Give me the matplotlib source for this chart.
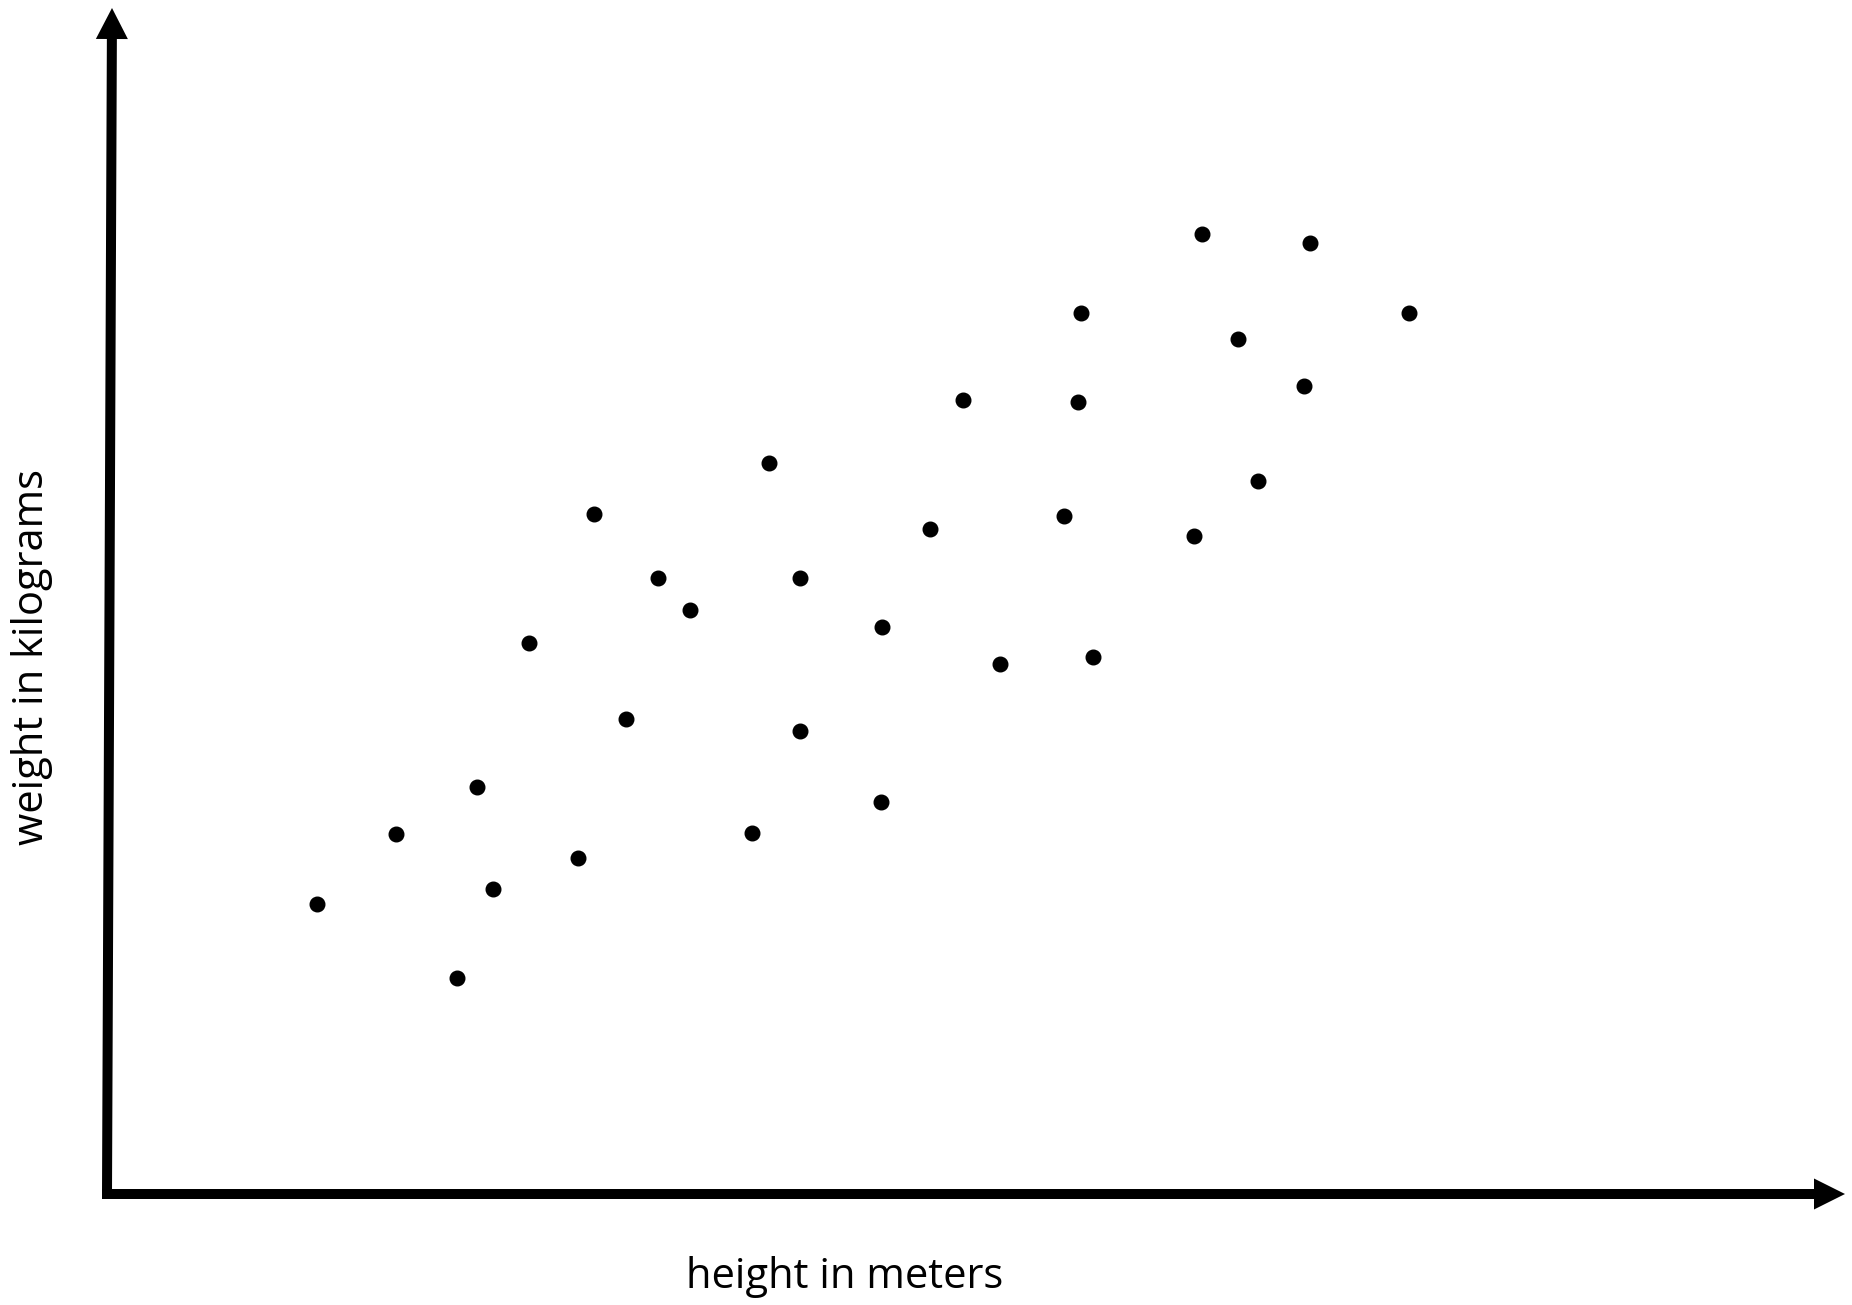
#!/usr/bin/env python3
"""Height vs weight scatter, hand-drawn arrow axes, no ticks."""

import matplotlib.pyplot as plt

# values (arbitrary units, origin at the arrow corner)
height = [210, 289, 350, 370, 386, 422, 471, 487, 519, 551, 583, 645, 662, 693, 693,
          774, 775, 823, 856, 893, 957, 971, 974, 986, 1087, 1095, 1131, 1151, 1197,
          1203, 1302]
weight = [290, 360, 216, 407, 305, 551, 336, 680, 475, 616, 584, 361, 731, 616, 463,
          392, 567, 665, 794, 530, 678, 792, 881, 537, 658, 960, 855, 713, 808,
          951, 881]

xlabel = "height in meters"
ylabel = "weight in kilograms"

plt.rcParams["font.family"] = ["Open Sans", "DejaVu Sans"]

fig = plt.figure(figsize=(18.52, 13.05), dpi=100)
ax = fig.add_axes([0, 0, 1, 1])
ax.set_xlim(-107, 1745)
ax.set_ylim(-111, 1194)
ax.axis("off")

ax.plot(height, weight, "o", color="black", markersize=10.5, linestyle="none")

# arrows for the axes
ax.arrow(-5, 0, 1743, 0, width=10, head_width=31, head_length=31,
         length_includes_head=True, color="black", lw=0)
ax.arrow(0, 0, 5, 1186, width=10, head_width=32, head_length=31,
         length_includes_head=True, color="black", lw=0)

ax.text(738, -94, xlabel, ha="center", va="baseline", fontsize=30)
ax.text(-75, 537, ylabel, ha="center", va="center", rotation=90, fontsize=30)

fig.savefig("out.png", dpi=100)
